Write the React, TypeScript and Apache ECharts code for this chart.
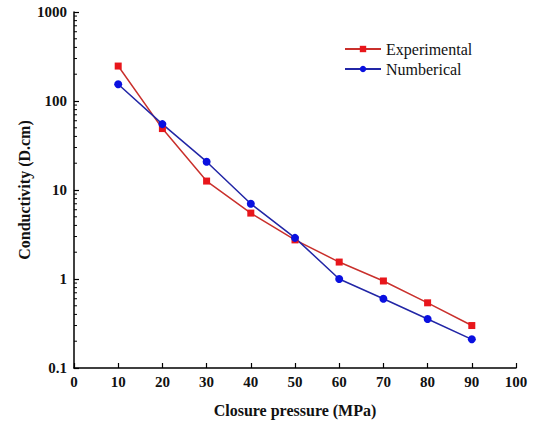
import React, { useEffect, useRef } from "react";
import * as echarts from "echarts";

const pressure = [10, 20, 30, 40, 50, 60, 70, 80, 90];
const experimental = [247, 49, 12.6, 5.5, 2.75, 1.55, 0.95, 0.54, 0.3];
const numerical = [154, 55, 20.8, 7.0, 2.9, 1.0, 0.6, 0.355, 0.21];
const yMinorTicks = [
  0.2, 0.3, 0.4, 0.5, 0.6, 0.7, 0.8, 0.9,
  2, 3, 4, 5, 6, 7, 8, 9,
  20, 30, 40, 50, 60, 70, 80, 90,
  200, 300, 400, 500, 600, 700, 800, 900,
];

const FONT = "Liberation Serif";
const BOLD_FONT = "Times New Roman, Liberation Serif, serif";

export default function App() {
  const ref = useRef<HTMLDivElement>(null);
  useEffect(() => {
    if (!ref.current) return;
    const chart = echarts.init(ref.current, null, { renderer: "svg" });
    chart.setOption({
      animation: false,
      backgroundColor: "#fff",
      textStyle: { fontFamily: FONT },
      grid: { left: 74, right: 27, top: 12, bottom: 55, containLabel: false },
      legend: {
        data: ["Experimental", "Numberical"],
        orient: "vertical",
        left: 339,
        top: 36,
        itemWidth: 36,
        itemHeight: 8,
        itemGap: 4,
        textStyle: { fontFamily: FONT, fontSize: 16, color: "#111" },
      },
      xAxis: {
        type: "value",
        min: 0,
        max: 100,
        interval: 10,
        name: "Closure pressure (MPa)",
        nameLocation: "middle",
        nameGap: 34,
        nameMoveOverlap: false,
        nameTextStyle: { fontFamily: BOLD_FONT, fontSize: 16, fontWeight: "bold", color: "#111" },
        axisLine: { show: true, lineStyle: { color: "#000", width: 1.5 } },
        axisTick: { show: true, inside: true, length: 5, lineStyle: { color: "#000", width: 1.2 } },
        axisLabel: { fontFamily: BOLD_FONT, fontSize: 15, fontWeight: "bold", color: "#111", margin: 6 },
        splitLine: { show: false },
      },
      yAxis: {
        type: "log",
        logBase: 10,
        min: 0.1,
        max: 1000,
        name: "Conductivity (D.cm)",
        nameLocation: "middle",
        nameGap: 42,
        nameMoveOverlap: false,
        nameTextStyle: { fontFamily: BOLD_FONT, fontSize: 16, fontWeight: "bold", color: "#111" },
        axisLine: { show: true, lineStyle: { color: "#000", width: 1.5 } },
        axisTick: { show: true, inside: true, length: 5, lineStyle: { color: "#000", width: 1.2 } },
        axisLabel: {
          fontFamily: BOLD_FONT,
          fontSize: 15,
          fontWeight: "bold",
          color: "#111",
          margin: 7,
          formatter: (v: number) => String(v),
        },
        splitLine: { show: false },
      },
      series: [
        {
          name: "Experimental",
          type: "line",
          data: pressure.map((p, i) => [p, experimental[i]]),
          symbol: "rect",
          symbolSize: 7,
          itemStyle: { color: "#e8161b" },
          lineStyle: { color: "#c9302c", width: 1.5 },
        },
        {
          name: "Numberical",
          type: "line",
          data: pressure.map((p, i) => [p, numerical[i]]),
          symbol: "circle",
          symbolSize: 8,
          itemStyle: { color: "#0a10e0" },
          lineStyle: { color: "#2226a6", width: 1.5 },
        },
        {
          name: "minorTicks",
          type: "custom",
          silent: true,
          clip: false,
          data: yMinorTicks.map((v) => [0, v]),
          renderItem: (params: any, api: any) => {
            const p = api.coord([0, api.value(1)]);
            return {
              type: "line",
              shape: { x1: p[0], y1: p[1], x2: p[0] + 3, y2: p[1] },
              style: { stroke: "#000", lineWidth: 1 },
            };
          },
        },
      ],
    });
    return () => chart.dispose();
  }, []);
  return <div ref={ref} style={{ width: 543, height: 423, position: "absolute", left: 0, top: 0 }} />;
}
